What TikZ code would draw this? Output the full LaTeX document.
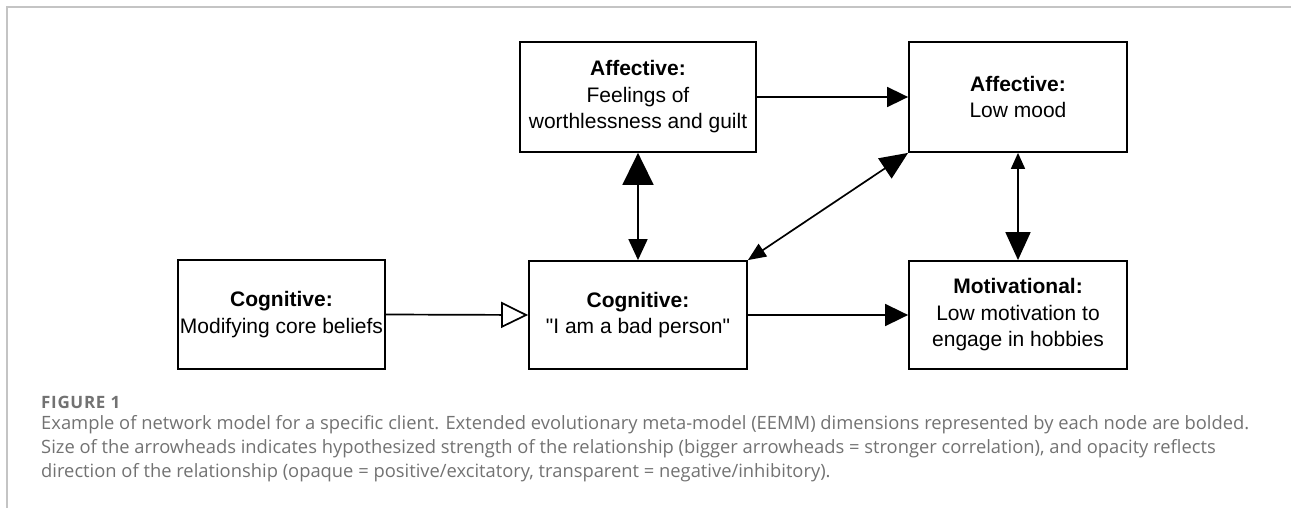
\documentclass[tikz,border=0pt]{standalone}
\usepackage{fontspec}
\setmainfont{Liberation Sans}
\newfontfamily\capfont{Open Sans}
\newfontfamily\labelfont[LetterSpace=4]{Open Sans}
\usetikzlibrary{arrows.meta}
\definecolor{framegray}{HTML}{C4C4C4}
\definecolor{captiongray}{HTML}{727272}
\begin{document}
\begin{tikzpicture}[x=1pt,y=-1pt,
  box/.style={draw=black,line width=1.8pt,fill=white,inner sep=0pt,align=center,
    font=\fontsize{21}{26.5}\selectfont},
  link/.style={line width=1.7pt,draw=black},
  captext/.style={anchor=base west,inner sep=0pt,text=captiongray,
    font=\capfont\fontsize{18.35}{24}\selectfont},
  figtag/.style={anchor=base west,inner sep=0pt,text=captiongray,
    font=\labelfont\fontsize{17}{20}\selectfont\bfseries},
]
\useasboundingbox (0,0) rectangle (1291,508);
% outer frame
\draw[framegray,line width=1.6pt] (7,508) -- (7,7) -- (1291,7);

% nodes
\node[box,minimum width=207pt,minimum height=109pt] (cb) at (281.5,314.5)
  {\textbf{Cognitive:}\\Modifying core beliefs};
\node[box,minimum width=218pt,minimum height=108pt] (bp) at (638,315)
  {\textbf{Cognitive:}\\\textquotedbl I am a bad person\textquotedbl};
\node[box,minimum width=236pt,minimum height=110pt] (fw) at (638,97)
  {\textbf{Affective:}\\Feelings of\\worthlessness and guilt};
\node[box,minimum width=218pt,minimum height=110pt] (lm) at (1018,97)
  {\textbf{Affective:}\\Low mood};
\node[box,minimum width=218pt,minimum height=108pt] (mo) at (1018,315)
  {\textbf{Motivational:}\\Low motivation to\\engage in hobbies};

% connectors
\draw[link,-{Triangle[open,length=27pt,width=26pt,fill=white]}] (cb.east) -- (bp.west);
\draw[link,-{Triangle[length=23pt,width=22pt]}] (bp.east) -- (mo.west);
\draw[link,-{Triangle[length=21pt,width=20pt]}] (fw.east) -- (lm.west);
\draw[link,{Triangle[length=32pt,width=31pt]}-{Triangle[length=21pt,width=19pt]}] (fw.south) -- (bp.north);
\draw[link,{Triangle[length=18pt,width=15pt]}-{Triangle[length=28pt,width=24pt]}] (bp.north east) -- (lm.south west);
\draw[link,{Triangle[length=16pt,width=14pt]}-{Triangle[length=28pt,width=25pt]}] (lm.south) -- (mo.north);

% caption
\node[figtag] (figlabel) at (41,408) {FIGURE 1};
\node[captext] (cap1) at (41,429)
  {Example of network model for a specific client. Extended evolutionary meta-model (EEMM) dimensions represented by each node are bolded.};
\node[captext] (cap2) at (41,453)
  {Size of the arrowheads indicates hypothesized strength of the relationship (bigger arrowheads = stronger correlation), and opacity reflects};
\node[captext] (cap3) at (41,477)
  {direction of the relationship (opaque = positive/excitatory, transparent = negative/inhibitory).};
\end{tikzpicture}
\end{document}
